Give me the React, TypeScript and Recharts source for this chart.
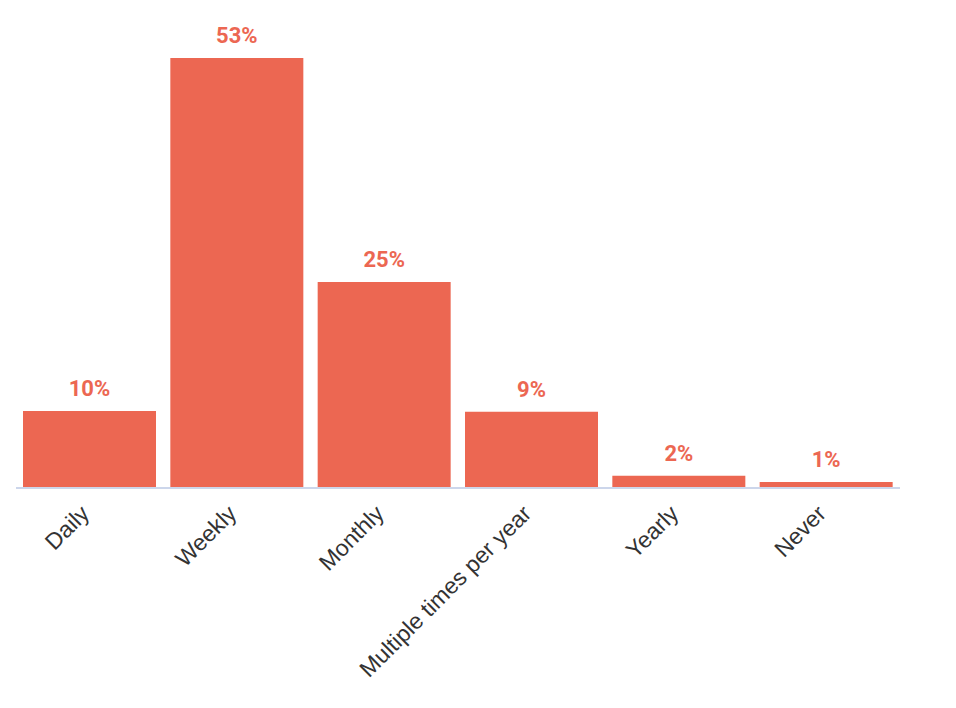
import * as React from "react"
import { BarChart, Bar, XAxis, YAxis, LabelList } from "recharts"

const categories = ["Daily", "Weekly", "Monthly", "Multiple times per year", "Yearly", "Never"]
const shares = [9.5, 53, 25.4, 9.4, 1.5, 0.74]

const BAR_COLOR = "#EC6752"
const LABEL_FONT = "Roboto, 'Noto Sans', sans-serif"
const TICK_FONT = "'Liberation Sans', Arial, Helvetica, sans-serif"

const data = categories.map((name, i) => ({ name, share: shares[i] }))

function RotatedTick(props: any) {
  const { x, y, payload } = props
  return (
    <g transform={`translate(${x + 1},${y + 19})`}>
      <text
        x={0}
        y={0}
        textAnchor="end"
        transform="rotate(-45)"
        fill="#333333"
        fontSize={23}
        fontFamily={TICK_FONT}
      >
        {payload.value}
      </text>
    </g>
  )
}

export default function App() {
  return (
    <div style={{ width: 940, height: 700, background: "#fff" }}>
      <BarChart
        width={940}
        height={700}
        data={data}
        margin={{ top: 50, right: 48, bottom: 0, left: 8 }}
        barCategoryGap={7}
      >
        <XAxis
          dataKey="name"
          interval={0}
          tickLine={false}
          axisLine={{ stroke: "#CCD6EB", strokeWidth: 2 }}
          tick={<RotatedTick />}
          height={220}
        />
        <YAxis hide domain={[0, 53]} />
        <Bar dataKey="share" fill={BAR_COLOR} isAnimationActive={false}>
          <LabelList
            dataKey="share"
            position="top"
            offset={15}
            fill={BAR_COLOR}
            fontSize={22}
            fontWeight={700}
            fontFamily={LABEL_FONT}
            formatter={(v: any) => `${Math.round(Number(v))}%`}
          />
        </Bar>
      </BarChart>
    </div>
  )
}
